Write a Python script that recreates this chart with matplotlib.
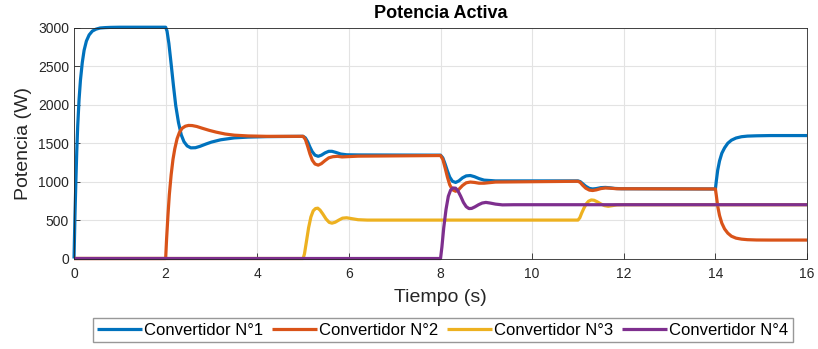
import matplotlib
matplotlib.use("Agg")
import matplotlib.pyplot as plt

plt.rcParams['font.family'] = ['Liberation Sans', 'DejaVu Sans']

# Convertidor N°1
t1 = [0, 0.02, 0.04, 0.06, 0.08, 0.11, 0.14, 0.18, 0.22, 0.27, 0.33, 0.4, 0.48, 0.57, 0.68,
      0.8, 1.0, 2.0, 2.03, 2.07, 2.12, 2.17, 2.22, 2.28, 2.34, 2.4, 2.47, 2.55, 2.65, 2.75,
      2.88, 3.0, 3.2, 3.5, 3.8, 4.2, 5.0, 5.05, 5.1, 5.15, 5.2, 5.26, 5.33, 5.4, 5.48, 5.56,
      5.63, 5.72, 5.82, 5.95, 6.2, 8.0, 8.05, 8.1, 8.15, 8.2, 8.26, 8.33, 8.4, 8.48, 8.56,
      8.65, 8.74, 8.84, 8.95, 9.2, 11.0, 11.05, 11.1, 11.17, 11.25, 11.32, 11.4, 11.5, 11.6,
      11.7, 11.8, 11.95, 14.0, 14.02, 14.05, 14.09, 14.14, 14.2, 14.27, 14.35, 14.45, 14.57,
      14.7, 14.9, 15.2, 16.0]
p1 = [0, 550, 1000, 1400, 1720, 2070, 2320, 2550, 2710, 2830, 2910, 2960, 2985, 3000, 3005,
      3008, 3010, 3010, 2960, 2800, 2530, 2250, 1990, 1770, 1610, 1520, 1465, 1440, 1442, 1460,
      1490, 1515, 1545, 1570, 1580, 1586, 1590, 1570, 1520, 1450, 1390, 1345, 1330, 1345, 1375, 1395,
      1395, 1380, 1360, 1350, 1348, 1345, 1310, 1230, 1140, 1060, 1005, 990, 1010, 1050, 1075,
      1080, 1065, 1040, 1020, 1010, 1010, 1000, 975, 940, 912, 905, 910, 922, 925,
      920, 912, 908, 905, 1010, 1150, 1270, 1370, 1440, 1500, 1540, 1568, 1585,
      1593, 1597, 1600, 1600]

# Convertidor N°2
t2 = [0, 2.0, 2.02, 2.05, 2.08, 2.12, 2.16, 2.2, 2.25, 2.3, 2.36, 2.43, 2.5, 2.58, 2.68,
      2.8, 2.95, 3.1, 3.3, 3.5, 3.8, 4.2, 5.0, 5.05, 5.1, 5.15, 5.2, 5.26, 5.33, 5.4, 5.48,
      5.56, 5.65, 5.75, 5.85, 5.95, 6.2, 8.0, 8.05, 8.1, 8.15, 8.2, 8.26, 8.33, 8.4, 8.48,
      8.56, 8.65, 8.74, 8.84, 8.95, 9.2, 11.0, 11.05, 11.1, 11.17, 11.25, 11.32, 11.4, 11.5,
      11.6, 11.7, 11.85, 14.0, 14.02, 14.05, 14.09, 14.14, 14.2, 14.27, 14.35, 14.45, 14.57,
      14.7, 14.9, 15.2, 16.0]
p2 = [0, 0, 250, 560, 830, 1090, 1290, 1430, 1560, 1640, 1695, 1722, 1732, 1730, 1718,
      1695, 1668, 1645, 1620, 1605, 1595, 1590, 1590, 1550, 1460, 1360, 1280, 1230, 1215, 1235, 1275,
      1310, 1325, 1330, 1322, 1325, 1332, 1340, 1290, 1180, 1060, 960, 895, 875, 900, 950,
      985, 995, 990, 980, 980, 995, 1005, 990, 955, 915, 890, 885, 893, 910,
      918, 915, 908, 905, 820, 680, 560, 460, 385, 330, 290, 265, 252,
      245, 241, 240, 240]

# Convertidor N°3
t3 = [0, 5.0, 5.03, 5.07, 5.12, 5.17, 5.22, 5.27, 5.32, 5.37, 5.43, 5.5, 5.57, 5.63, 5.7,
      5.78, 5.86, 5.95, 6.05, 6.2, 6.4, 6.7, 11.0, 11.04, 11.08, 11.13, 11.18, 11.23, 11.29,
      11.35, 11.42, 11.5, 11.58, 11.66, 11.75, 11.85, 12.0, 16.0]
p3 = [0, 0, 60, 210, 400, 540, 620, 650, 655, 630, 580, 515, 470, 460, 472,
      500, 525, 530, 520, 505, 500, 500, 500, 530, 590, 655, 710, 745, 762,
      758, 738, 710, 688, 680, 688, 698, 700, 700]

# Convertidor N°4
t4 = [0, 8.0, 8.03, 8.07, 8.12, 8.17, 8.22, 8.27, 8.33, 8.38, 8.44, 8.5, 8.56, 8.62, 8.68,
      8.75, 8.83, 8.91, 8.99, 9.08, 9.2, 9.35, 9.6, 16.0]
p4 = [0, 0, 150, 400, 640, 810, 890, 918, 915, 880, 810, 730, 675, 650, 652,
      672, 700, 722, 730, 722, 708, 698, 700, 700]

series = [(t1, p1, 'Convertidor N°1', '#0072BD'),
          (t2, p2, 'Convertidor N°2', '#D95319'),
          (t3, p3, 'Convertidor N°3', '#EDB120'),
          (t4, p4, 'Convertidor N°4', '#7E2F8E')]

fig = plt.figure(figsize=(8.18, 3.49), dpi=100)
ax = fig.add_axes([0.0905, 0.2593, 0.8961, 0.6605])

for t, p, name, c in series:
    ax.plot(t, p, color=c, lw=2.3, label=name, solid_joinstyle='round',
            solid_capstyle='butt', clip_on=False)

ax.set_xlim(0, 16)
ax.set_ylim(0, 3000)
ax.set_xticks(range(0, 17, 2))
ax.set_yticks(range(0, 3001, 500))
ax.grid(True, color='#e3e3e3', lw=0.8)
ax.set_axisbelow(True)
ax.tick_params(direction='in', length=4, labelsize=10, colors='#262626', width=0.6)
ax.tick_params(axis='x', pad=6)
for s in ax.spines.values():
    s.set_color('#262626')
    s.set_linewidth(0.6)

ax.set_title('Potencia Activa', fontsize=13, fontweight='bold', pad=7)
ax.set_xlabel('Tiempo (s)', fontsize=14, color='#262626', labelpad=6)
ax.set_ylabel('Potencia (W)', fontsize=14, color='#262626', labelpad=4)

fig.legend(loc='center', bbox_to_anchor=(0.541, 0.054), ncol=4, fontsize=12,
           frameon=True, fancybox=False, edgecolor='#7f7f7f', handlelength=2.7,
           handletextpad=0.15, columnspacing=0.5, borderpad=0.25, borderaxespad=0)

fig.savefig('out.png', dpi=100)
